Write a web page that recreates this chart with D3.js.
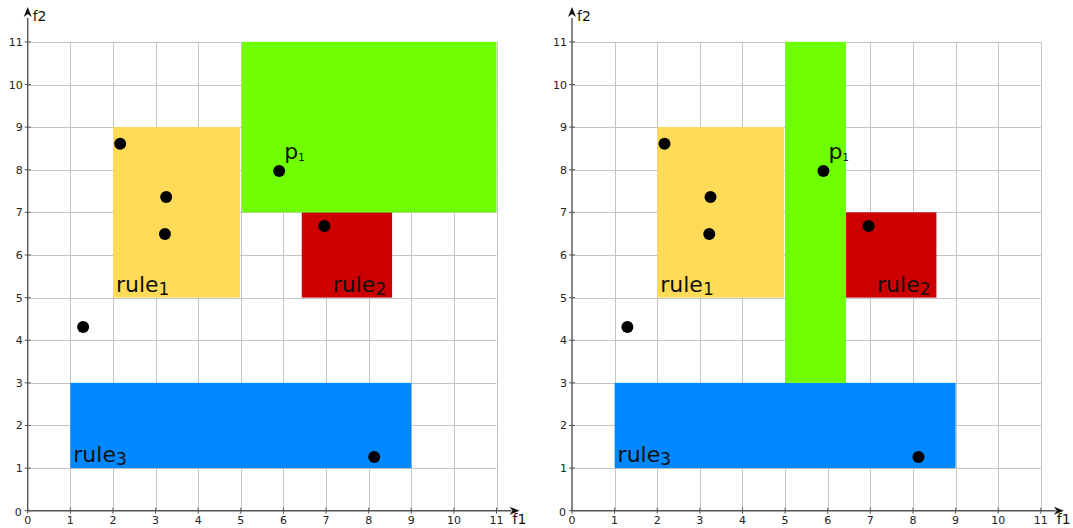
<!DOCTYPE html>
<html>
<head>
<meta charset="utf-8">
<script src="https://cdn.jsdelivr.net/npm/d3@7"></script>
<style>
  html, body { margin: 0; padding: 0; background: #fff; }
  svg { display: block; font-family: "DejaVu Sans", sans-serif; }
</style>
</head>
<body>
<svg id="chart" width="1073" height="528"></svg>
<script>
// Feature space grid 0..11 on both axes
const tickValues = [0, 1, 2, 3, 4, 5, 6, 7, 8, 9, 10, 11];

// Sample points (f1, f2); the one named p1 is labelled
const pointF1 = [2.17, 3.25, 3.22, 5.9, 6.96, 1.3, 8.13];
const pointF2 = [8.61, 7.36, 6.49, 7.97, 6.68, 4.31, 1.26];
const pointNames = ["", "", "", "p", "", "", ""];

// Rule boxes: [f1 min, f1 max, f2 min, f2 max]
const ruleNames = ["rule", "rule", "rule"];
const ruleSubs = ["1", "2", "3"];
const ruleColors = ["#ffdb58", "#cc0000", "#0088ff"];
const ruleBoxes = [[2, 4.98, 5, 9], [6.43, 8.55, 5, 7], [1, 9, 1, 3]];

// Green region containing p1, one per panel
const regionLeft = [5.03, 11, 7, 11];
const regionRight = [5, 6.43, 3, 11];
const regionColor = "#70ff00";

const svg = d3.select("#chart");
const unit = 42.62;

function drawPanel(originX, region) {
  const x = d3.scaleLinear().domain([0, 11]).range([originX, originX + 11 * unit]);
  const y = d3.scaleLinear().domain([0, 11]).range([510.7, 510.7 - 11 * unit]);
  const g = svg.append("g");

  // grid
  g.selectAll(".gx").data(tickValues.slice(1)).join("line")
    .attr("x1", d => Math.round(x(d)) + 0.5).attr("x2", d => Math.round(x(d)) + 0.5)
    .attr("y1", y(0)).attr("y2", y(11))
    .attr("stroke", "#c4c4c4").attr("stroke-width", 1);
  g.selectAll(".gy").data(tickValues.slice(1)).join("line")
    .attr("y1", d => Math.round(y(d)) + 0.5).attr("y2", d => Math.round(y(d)) + 0.5)
    .attr("x1", x(0)).attr("x2", x(11))
    .attr("stroke", "#c4c4c4").attr("stroke-width", 1);

  // green region and rule boxes
  const boxes = [region].concat(ruleBoxes);
  const colors = [regionColor].concat(ruleColors);
  const order = [1, 2, 3, 0];
  order.forEach(i => {
    const b = boxes[i];
    g.append("rect")
      .attr("x", x(b[0])).attr("y", y(b[3]))
      .attr("width", x(b[1]) - x(b[0])).attr("height", y(b[2]) - y(b[3]))
      .attr("fill", colors[i]);
  });

  // rule labels at lower-left of each box
  ruleBoxes.forEach((b, i) => {
    const t = g.append("text")
      .attr("x", x(b[0]) + (i === 1 ? 31 : 3))
      .attr("y", y(b[2]) - 6)
      .attr("font-size", 22).attr("fill", "#111");
    t.append("tspan").text(ruleNames[i]);
    t.append("tspan").attr("font-size", 17).attr("dy", 3).text(ruleSubs[i]);
  });

  // axes
  const axisColor = "#555";
  g.append("line").attr("x1", x(0)).attr("x2", x(0) + 11 * unit + 15)
    .attr("y1", y(0)).attr("y2", y(0)).attr("stroke", axisColor).attr("stroke-width", 1.4);
  g.append("line").attr("x1", x(0)).attr("x2", x(0))
    .attr("y1", y(0)).attr("y2", y(11) - 24).attr("stroke", axisColor).attr("stroke-width", 1.4);
  const tipX = x(0) + 11 * unit + 23;
  g.append("path")
    .attr("d", `M${tipX},${y(0)} L${tipX - 10},${y(0) - 4} L${tipX - 7},${y(0)} L${tipX - 10},${y(0) + 4} Z`)
    .attr("fill", "#111");
  const tipY = y(11) - 35;
  g.append("path")
    .attr("d", `M${x(0)},${tipY} L${x(0) - 4},${tipY + 10} L${x(0)},${tipY + 7} L${x(0) + 4},${tipY + 10} Z`)
    .attr("fill", "#111");

  // tick marks and labels
  g.selectAll(".tx").data(tickValues).join("line")
    .attr("x1", d => x(d)).attr("x2", d => x(d))
    .attr("y1", y(0) - 3).attr("y2", y(0) + 3)
    .attr("stroke", axisColor);
  g.selectAll(".ty").data(tickValues).join("line")
    .attr("y1", d => y(d)).attr("y2", d => y(d))
    .attr("x1", x(0) - 3).attr("x2", x(0) + 3)
    .attr("stroke", axisColor);
  g.selectAll(".lx").data(tickValues).join("text")
    .attr("x", d => x(d)).attr("y", 524)
    .attr("text-anchor", "middle").attr("font-size", 11).attr("fill", "#222")
    .text(d => d);
  g.selectAll(".ly").data(tickValues.slice(1)).join("text")
    .attr("x", x(0) - 5).attr("y", d => y(d) + 4)
    .attr("text-anchor", "end").attr("font-size", 11).attr("fill", "#222")
    .text(d => d);
  g.append("text").attr("x", x(0) - 6).attr("y", y(0) + 5)
    .attr("text-anchor", "end").attr("font-size", 11).attr("fill", "#222").text("0");

  g.append("text").attr("x", x(0) + 5).attr("y", 21)
    .attr("font-size", 14).attr("fill", "#111").text("f2");
  g.append("text").attr("x", tipX - 7).attr("y", 524)
    .attr("font-size", 14).attr("fill", "#111").text("f1");

  // points
  g.selectAll(".pt").data(pointF1).join("circle")
    .attr("cx", d => x(d)).attr("cy", (d, i) => y(pointF2[i]))
    .attr("r", 6).attr("fill", "#000");

  pointNames.forEach((n, i) => {
    if (!n) return;
    const t = g.append("text")
      .attr("x", x(pointF1[i]) + 5).attr("y", y(pointF2[i]) - 12)
      .attr("font-size", 22).attr("fill", "#111");
    t.append("tspan").text(n);
    t.append("tspan").attr("font-size", 10).attr("dy", 2).text("1");
  });
}

drawPanel(27.7, regionLeft);
drawPanel(572, regionRight);
</script>
</body>
</html>
